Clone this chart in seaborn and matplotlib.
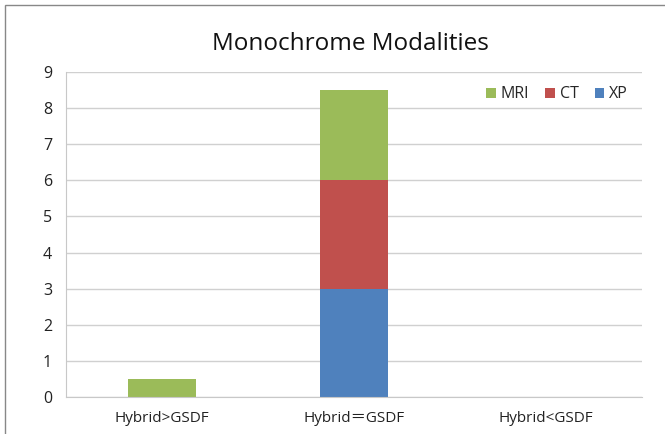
import matplotlib
matplotlib.use('Agg')
import matplotlib.pyplot as plt
import seaborn as sns
import pandas as pd
from matplotlib.patches import Rectangle

categories = ['Hybrid>GSDF', 'Hybrid\uff1dGSDF', 'Hybrid<GSDF']
xp = [0, 3, 0]
ct = [0, 3, 0]
mri = [0.5, 2.5, 0]

colors = {'XP': '#4F81BD', 'CT': '#C0504D', 'MRI': '#9BBB59'}

sns.set_style('white')
plt.rcParams['font.family'] = ['Open Sans', 'Noto Sans CJK SC', 'DejaVu Sans']

df = pd.DataFrame({'cat': categories, 'XP': xp, 'CT': ct, 'MRI': mri})
df['b_ct'] = df['XP']
df['b_mri'] = df['XP'] + df['CT']

fig = plt.figure(figsize=(6.65, 4.34), dpi=100)
ax = fig.add_axes([66 / 665, 1 - 397 / 434, 576 / 665, 325 / 434])

sns.barplot(data=df, x='cat', y='XP', color=colors['XP'], width=0.35, ax=ax,
            label='XP', saturation=1, linewidth=0)
sns.barplot(data=df, x='cat', y='CT', bottom=df['b_ct'], color=colors['CT'], width=0.35,
            ax=ax, label='CT', saturation=1, linewidth=0)
sns.barplot(data=df, x='cat', y='MRI', bottom=df['b_mri'], color=colors['MRI'], width=0.35,
            ax=ax, label='MRI', saturation=1, linewidth=0)

ax.set_ylim(0, 9)
ax.set_yticks(range(10))
ax.set_xlim(-0.5, 2.5)
ax.yaxis.grid(True, color='#d0d0d0', linewidth=1)
ax.set_axisbelow(True)
for s in ['top', 'right']:
    ax.spines[s].set_visible(False)
ax.spines['left'].set_color('#c8c8c8')
ax.spines['bottom'].set_color('#c8c8c8')
ax.set_xlabel('')
ax.set_ylabel('')
ax.tick_params(axis='y', labelsize=11.5, colors='#222222', length=0, pad=10)
ax.tick_params(axis='x', labelsize=11, colors='#222222', length=0, pad=10)

handles, labels = ax.get_legend_handles_labels()
order = ['MRI', 'CT', 'XP']
hmap = dict(zip(labels, handles))
ax.legend([hmap[k] for k in order], order, loc='upper right', ncol=3, frameon=False,
          fontsize=11.5, handlelength=0.6, handleheight=0.6, columnspacing=1.0,
          handletextpad=0.3, bbox_to_anchor=(1.0, 1.0))

fig.text(350 / 665, 1 - 44 / 434, 'Monochrome Modalities', ha='center', va='center',
         fontsize=17.5, color='#111111')

fig.patches.append(Rectangle((5 / 665, -0.1), 1.2, 1 - 5 / 434 + 0.1,
                             transform=fig.transFigure, fill=False,
                             edgecolor='#888888', linewidth=1))

fig.savefig('out.png', dpi=100)
